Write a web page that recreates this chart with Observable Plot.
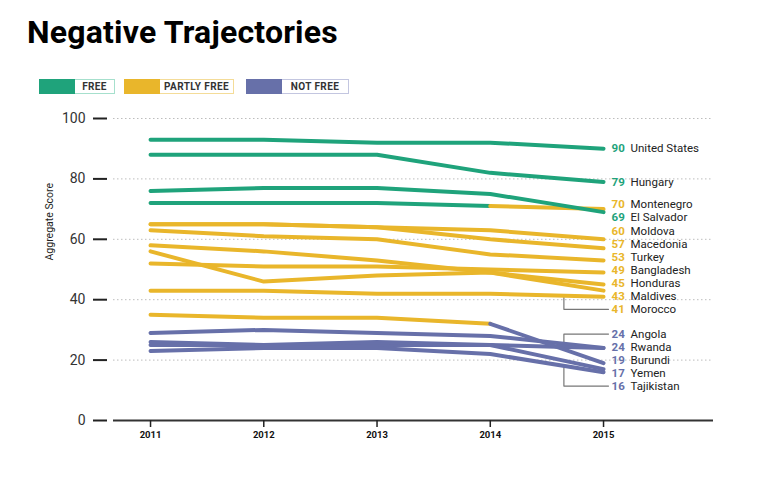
<!DOCTYPE html>
<html>
<head>
<meta charset="utf-8">
<script src="https://cdn.jsdelivr.net/npm/d3@7"></script>
<script src="https://cdn.jsdelivr.net/npm/@observablehq/plot@0.6"></script>
<style>
  html, body { margin: 0; padding: 0; background: #fff; }
  #head { position: relative; width: 763px; height: 104px; font-family: Roboto, sans-serif; }
  #title { position: absolute; left: 27px; top: 13px; font-size: 32px; font-weight: 700; color: #000; letter-spacing: 0.2px; white-space: nowrap; }
  .lg { position: absolute; top: 79px; height: 15px; display: flex; }
  .sw { width: 36px; height: 15px; }
  .lb { height: 13px; border: 1px solid; border-left: none; background: #fff; font-size: 10px; font-weight: 700; color: #333;
        letter-spacing: 0.4px; display: flex; align-items: center; justify-content: center; box-sizing: content-box; white-space: nowrap; }
  svg { display: block; }
</style>
</head>
<body>
<div id="head">
  <div id="title">Negative Trajectories</div>
</div>
<div id="chart"></div>
<script>
// ---- data ----
const years = [2011, 2012, 2013, 2014, 2015];
const countries = ["United States", "Hungary", "Montenegro", "El Salvador", "Moldova", "Macedonia", "Turkey",
  "Bangladesh", "Honduras", "Maldives", "Morocco", "Angola", "Rwanda", "Burundi", "Yemen", "Tajikistan"];
const scores = [
  [93, 93, 92, 92, 90],
  [88, 88, 88, 82, 79],
  [72, 72, 72, 71, 70],
  [76, 77, 77, 75, 69],
  [65, 65, 64, 63, 60],
  [65, 65, 64, 60, 57],
  [63, 61, 60, 55, 53],
  [52, 51, 51, 50, 49],
  [58, 56, 53, 49, 45],
  [56, 46, 48, 49, 43],
  [43, 43, 42, 42, 41],
  [29, 30, 29, 28, 24],
  [26, 25, 25, 25, 24],
  [35, 34, 34, 32, 19],
  [25, 25, 26, 25, 17],
  [23, 24, 24, 22, 16]
];
const statuses = [
  ["F", "F", "F", "F", "F"],
  ["F", "F", "F", "F", "F"],
  ["F", "F", "F", "F", "PF"],
  ["F", "F", "F", "F", "F"],
  ["PF", "PF", "PF", "PF", "PF"],
  ["PF", "PF", "PF", "PF", "PF"],
  ["PF", "PF", "PF", "PF", "PF"],
  ["PF", "PF", "PF", "PF", "PF"],
  ["PF", "PF", "PF", "PF", "PF"],
  ["PF", "PF", "PF", "PF", "PF"],
  ["PF", "PF", "PF", "PF", "PF"],
  ["NF", "NF", "NF", "NF", "NF"],
  ["NF", "NF", "NF", "NF", "NF"],
  ["PF", "PF", "PF", "PF", "NF"],
  ["NF", "NF", "NF", "NF", "NF"],
  ["NF", "NF", "NF", "NF", "NF"]
];
const statusCodes = ["F", "PF", "NF"];
const statusLabels = ["FREE", "PARTLY FREE", "NOT FREE"];
const yTicks = [0, 20, 40, 60, 80, 100];
const gridTicks = [20, 40, 60, 80, 100];
const yTitle = "Aggregate Score";

// ---- styles ----
const colors = ["#1fa37b", "#e9b62b", "#6770a9"];
const borders = ["#a6e0cd", "#f4dc98", "#c3c6e0"];
const legendLeft = [39, 124, 246];
const labelW = [39, 73, 66];

// legend (HTML, above the svg)
const head = document.getElementById("head");
statusCodes.forEach((s, i) => {
  const g = document.createElement("div");
  g.className = "lg";
  g.style.left = legendLeft[i] + "px";
  g.innerHTML = `<div class="sw" style="background:${colors[i]}"></div>` +
    `<div class="lb" style="width:${labelW[i]}px;border-color:${borders[i]}">${statusLabels[i]}</div>`;
  head.appendChild(g);
});

// ---- geometry ----
const W = 763, H = 360, mt = 14, mb = 44, ml = 113, mr = 50;
const yScale = Plot.scale({y: {domain: [0, 100], range: [H - mb, mt]}});

// line series split into runs of equal status (segment colour = status of its end year)
const rows = [];
countries.forEach((c, i) => {
  let run = 0;
  for (let k = 1; k < years.length; k++) {
    const st = statuses[i][k];
    if (k > 1 && st !== statuses[i][k - 1]) run++;
    const key = c + "-" + run;
    if (k === 1 || st !== statuses[i][k - 1]) {
      rows.push({key, c, year: years[k - 1], v: scores[i][k - 1], st});
    }
    rows.push({key, c, year: years[k], v: scores[i][k], st});
  }
});

// end labels with simple cluster dodge
const gap = 13;
const items = countries.map((c, i) => ({c, i, v: scores[i][4], st: statuses[i][4], y0: yScale.apply(scores[i][4])}))
  .sort((a, b) => a.y0 - b.y0);
let clusters = [];
for (const it of items) {
  clusters.push({items: [it], top: it.y0});
  while (clusters.length > 1) {
    const b = clusters[clusters.length - 1], a = clusters[clusters.length - 2];
    if (a.top + a.items.length * gap > b.top) {
      const m = {items: a.items.concat(b.items)};
      const mean = d3.mean(m.items, d => d.y0);
      m.top = mean - (m.items.length - 1) * gap / 2;
      clusters.splice(clusters.length - 2, 2, m);
    } else break;
  }
}
const labels = [];
clusters.forEach(cl => cl.items.forEach((it, j) => {
  const py = cl.top + j * gap;
  labels.push({...it, py, ly: yScale.invert(py), year: years[4]});
}));
const leaderX = 2014.65, leaderEnd = 2015.044;
const leaders = [];
labels.filter(d => Math.abs(d.py - d.y0) > 10).forEach(d => {
  const s = scores[d.i];
  const lv = s[3] + (leaderX - 2014) * (s[4] - s[3]);
  leaders.push({c: d.c, x: leaderX, y: lv}, {c: d.c, x: leaderX, y: d.ly}, {c: d.c, x: leaderEnd, y: d.ly});
});

const chart = Plot.plot({
  width: W, height: H,
  marginLeft: ml, marginRight: mr, marginTop: mt, marginBottom: mb,
  style: {fontFamily: "Roboto, sans-serif", color: "#222", overflow: "visible"},
  x: {domain: [2010.673, 2015.971]},
  y: {domain: [0, 100]},
  color: {domain: statusCodes, range: colors},
  marks: [
    Plot.ruleY(gridTicks, {stroke: "#bdbdbd", strokeWidth: 1, strokeDasharray: "1.5,2.5"}),
    Plot.ruleY([0], {stroke: "#333", strokeWidth: 2}),
    Plot.axisY({ticks: yTicks, tickSize: 14, tickPadding: 8, dx: -6, fontSize: 14, strokeWidth: 2, stroke: "#222", fill: "#333", label: null}),
    Plot.axisX({ticks: years, tickFormat: "d", tickSize: 7, tickPadding: 4, fontSize: 9.5, fontWeight: 700, strokeWidth: 1.5, stroke: "#222", fill: "#111", label: null}),
    Plot.text([yTitle], {frameAnchor: "left", rotate: -90, dx: -64, dy: -9, fontSize: 10.5, fill: "#222"}),
    Plot.line(leaders, {x: "x", y: "y", z: "c", stroke: "#777", strokeWidth: 1.2}),
    Plot.line(rows, {x: "year", y: "v", z: "key", stroke: "st", strokeWidth: 4, strokeLinecap: "round", strokeLinejoin: "round", curve: "linear"}),
    Plot.text(labels, {x: "year", y: "ly", text: d => String(d.v), fill: "st", dx: 8, textAnchor: "start", fontSize: 11.5, fontWeight: 700}),
    Plot.text(labels, {x: "year", y: "ly", text: "c", fill: "#222", dx: 27, textAnchor: "start", fontSize: 11.5})
  ]
});
document.getElementById("chart").appendChild(chart);
</script>
</body>
</html>
